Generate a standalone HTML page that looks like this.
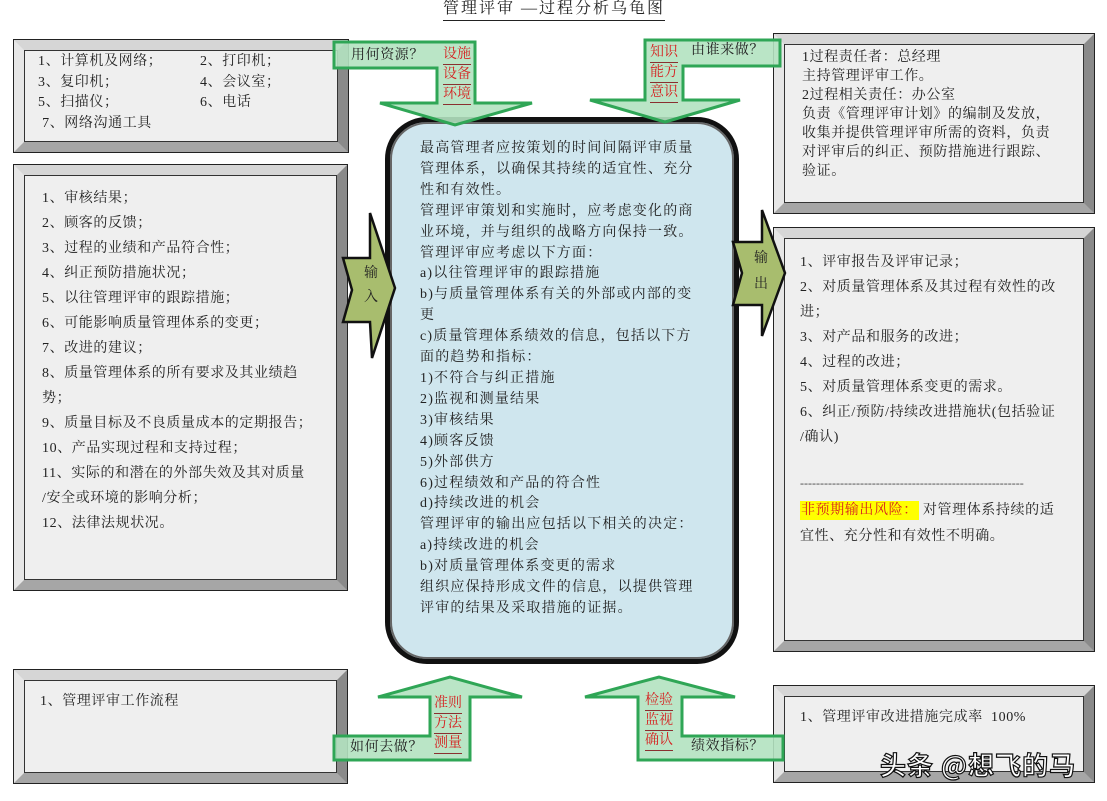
<!DOCTYPE html>
<html><head><meta charset="utf-8"><style>
body{margin:0;width:1107px;height:801px;background:#fff;position:relative;overflow:hidden;font-family:"Liberation Serif","Noto Serif CJK SC",serif;color:#222}
.b{position:absolute;box-sizing:border-box;border:10px solid;border-color:#d6d6d6 #8a8a8a #a6a6a6 #e6e6e6;outline:1px solid #222;box-shadow:inset 0 0 0 1px #333;background:#efefef}
.t{position:absolute;font-size:14px;white-space:nowrap;letter-spacing:0.6px}
.r{color:#d62020;font-size:14px;line-height:20px;position:absolute;white-space:nowrap}
.r span{display:block;border-bottom:1.5px solid #8a3030;line-height:19px}
</style></head><body>
<div class="t" style="left:443px;top:-2px;font-size:16px;border-bottom:1.5px solid #222;letter-spacing:2px;line-height:22px">管理评审 —过程分析乌龟图</div>

<div class="b" style="left:14px;top:40px;width:334px;height:112px"></div>
<div class="b" style="left:14px;top:165px;width:333px;height:425px"></div>
<div class="b" style="left:14px;top:670px;width:333px;height:113px"></div>
<div class="b" style="left:774px;top:34px;width:320px;height:179px"></div>
<div class="b" style="left:774px;top:228px;width:320px;height:423px"></div>
<div class="b" style="left:774px;top:686px;width:320px;height:96px"></div>

<div style="position:absolute;left:385px;top:117px;width:354px;height:547px;box-sizing:border-box;border:5px solid #111;border-radius:42px;background:#cfe6ee;box-shadow:inset 0 0 0 2px #666"></div>

<svg width="1107" height="801" style="position:absolute;left:0;top:0">
<g fill="#b2e2c0" fill-opacity="0.9" stroke="#2fa656" stroke-width="3" stroke-linejoin="miter">
<polygon points="334,42 475,42 475,103 532,103 455,125 380,103 437,103 437,68 334,68"/>
<polygon points="645,40 780,40 780,66 683,66 683,100 740,100 665,122 590,100 645,100"/>
<polygon points="334,736 430,736 430,697 378,697 450,677 522,697 470,697 470,760 334,760"/>
<polygon points="783,736 682,736 682,697 735,697 659,677 585,697 638,697 638,760 783,760"/>
</g>
<g fill="#a8bd6e" stroke="#111" stroke-width="2.5">
<polygon points="343,258 370,258 370,213 395,288 372,358 370,322 343,322 352,290"/>
<polygon points="733,242 762,242 762,210 785,273 762,336 762,305 733,305 742,273"/>
</g>
</svg>

<div class="t" style="left:351px;top:44px">用何资源？</div>
<div class="r" style="left:443px;top:45px"><span>设施</span><span>设备</span><span>环境</span></div>
<div class="t" style="left:691px;top:39px">由谁来做？</div>
<div class="r" style="left:650px;top:43px"><span>知识</span><span>能方</span><span>意识</span></div>
<div class="t" style="left:350px;top:736px">如何去做？</div>
<div class="r" style="left:434px;top:694px"><span>准则</span><span>方法</span><span>测量</span></div>
<div class="t" style="left:691px;top:735px">绩效指标？</div>
<div class="r" style="left:645px;top:691px"><span>检验</span><span>监视</span><span>确认</span></div>
<div class="t" style="left:364px;top:262px;line-height:24px">输<br>入</div>
<div class="t" style="left:754px;top:246px;line-height:26px">输<br>出</div>

<div class="t" style="left:38px;top:52px;line-height:20.5px">1、计算机及网络；<br>3、复印机；<br>5、扫描仪；<br>&nbsp;7、网络沟通工具</div>
<div class="t" style="left:200px;top:52px;line-height:20.5px">2、打印机；<br>4、会议室；<br>6、电话</div>

<div class="t" style="left:42px;top:186px;line-height:25px">1、审核结果；<br>2、顾客的反馈；<br>3、过程的业绩和产品符合性；<br>4、纠正预防措施状况；<br>5、以往管理评审的跟踪措施；<br>6、可能影响质量管理体系的变更；<br>7、改进的建议；<br>8、质量管理体系的所有要求及其业绩趋<br>势；<br>9、质量目标及不良质量成本的定期报告；<br>10、产品实现过程和支持过程；<br>11、实际的和潜在的外部失效及其对质量<br>/安全或环境的影响分析；<br>12、法律法规状况。</div>

<div class="t" style="left:40px;top:690px">1、管理评审工作流程</div>

<div class="t" style="left:420px;top:139px;line-height:20.9px;letter-spacing:1.2px">最高管理者应按策划的时间间隔评审质量<br>管理体系，以确保其持续的适宜性、充分<br>性和有效性。<br>管理评审策划和实施时，应考虑变化的商<br>业环境，并与组织的战略方向保持一致。<br>管理评审应考虑以下方面：<br>a)以往管理评审的跟踪措施<br>b)与质量管理体系有关的外部或内部的变<br>更<br>c)质量管理体系绩效的信息，包括以下方<br>面的趋势和指标：<br>1)不符合与纠正措施<br>2)监视和测量结果<br>3)审核结果<br>4)顾客反馈<br>5)外部供方<br>6)过程绩效和产品的符合性<br>d)持续改进的机会<br>管理评审的输出应包括以下相关的决定：<br>a)持续改进的机会<br>b)对质量管理体系变更的需求<br>组织应保持形成文件的信息，以提供管理<br>评审的结果及采取措施的证据。</div>

<div class="t" style="left:802px;top:48px;line-height:19px">1过程责任者：总经理<br>主持管理评审工作。<br>2过程相关责任：办公室<br>负责《管理评审计划》的编制及发放，<br>收集并提供管理评审所需的资料，负责<br>对评审后的纠正、预防措施进行跟踪、<br>验证。</div>

<div class="t" style="left:800px;top:250px;line-height:25px">1、评审报告及评审记录；<br>2、对质量管理体系及其过程有效性的改<br>进；<br>3、对产品和服务的改进；<br>4、过程的改进；<br>5、对质量管理体系变更的需求。<br>6、纠正/预防/持续改进措施状(包括验证<br>/确认)</div>
<div class="t" style="left:800px;top:476px;font-size:12px;color:#444;letter-spacing:0">--------------------------------------------------------</div>
<div class="t" style="left:800px;top:498px;line-height:26px"><span style="background:#ffff00;color:#d62020;padding:2px 1px">非预期输出风险：</span>&nbsp;对管理体系持续的适<br>宜性、充分性和有效性不明确。</div>

<div class="t" style="left:800px;top:706px">1、管理评审改进措施完成率&nbsp;&nbsp;100%</div>

<div style="position:absolute;left:880px;top:746px;font-family:'Noto Sans CJK SC',sans-serif;font-weight:bold;font-size:26px;color:#fff;-webkit-text-stroke:1.2px #111;white-space:nowrap;letter-spacing:1px">头条 @想飞的马</div>
</body></html>
